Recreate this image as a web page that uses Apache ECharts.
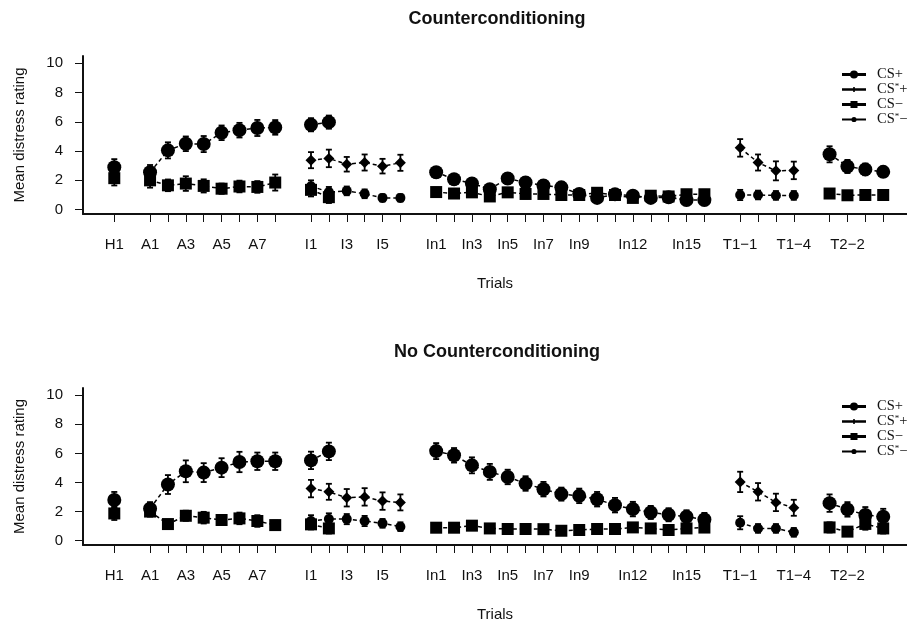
<!DOCTYPE html>
<html><head><meta charset="utf-8">
<script src="https://cdn.jsdelivr.net/npm/echarts@6/dist/echarts.min.js"></script>
<style>html,body{margin:0;padding:0;background:#fff}#c{width:907px;height:623px}</style>
</head><body><div id="c"></div>
<script>
// ---- data ----
const phaseSizes = [1, 8, 6, 16, 4, 4]; // H, A, I, In, T1, T2
const trialLabels = ['H1',
  'A1','A2','A3','A4','A5','A6','A7','A8',
  'I1','I2','I3','I4','I5','I6',
  'In1','In2','In3','In4','In5','In6','In7','In8','In9','In10','In11','In12','In13','In14','In15','In16',
  'T1−1','T1−2','T1−3','T1−4',
  'T2−1','T2−2','T2−3','T2−4'];
const shownLabels = ['H1','A1','A3','A5','A7','I1','I3','I5','In1','In3','In5','In7','In9','In12','In15','T1−1','T1−4','T2−2'];
const yTickValues = [0, 2, 4, 6, 8, 10];
const seriesNames = ['CS+', 'CS*+', 'CS−', 'CS*−'];

// Counterconditioning
const cc_csPlus = [2.9, 2.55,4.05,4.5,4.48,5.25,5.43,5.58,5.62, 5.8,5.98,null,null,null,null,
  2.55,2.08,1.78,1.4,2.13,1.85,1.65,1.52,1.07,0.8,1.05,0.95,0.8,0.85,0.65,0.65,
  null,null,null,null, 3.78,2.95,2.75,2.58];
const cc_csPlusErr = [0.55, 0.5,0.55,0.5,0.55,0.5,0.5,0.55,0.5, 0.45,0.45,null,null,null,null,
  0.35,0.35,0.35,0.3,0.35,0.35,0.35,0.35,0.3,0.3,0.3,0.3,0.3,0.3,0.35,0.35,
  null,null,null,null, 0.55,0.45,0.4,0.35];
const cc_csMinus = [2.15, 2.0,1.66,1.78,1.62,1.43,1.58,1.55,1.85, 1.35,0.85,null,null,null,null,
  1.2,1.1,1.18,0.9,1.18,1.07,1.07,1.0,1.0,1.15,1.0,0.8,0.95,0.9,1.05,1.05,
  null,null,null,null, 1.1,0.98,1.0,1.0];
const cc_csMinusErr = [0.5, 0.5,0.4,0.5,0.45,0.35,0.4,0.4,0.55, 0.45,0.4,null,null,null,null,
  0.3,0.3,0.3,0.3,0.3,0.3,0.3,0.3,0.3,0.3,0.3,0.3,0.3,0.3,0.3,0.3,
  null,null,null,null, 0.3,0.3,0.3,0.3];
const cc_csStarPlus = [null, null,null,null,null,null,null,null,null, 3.38,3.5,3.1,3.22,2.97,3.2,
  null,null,null,null,null,null,null,null,null,null,null,null,null,null,null,null,
  4.22,3.22,2.65,2.68, null,null,null,null];
const cc_csStarPlusErr = [null, null,null,null,null,null,null,null,null, 0.55,0.6,0.5,0.55,0.5,0.55,
  null,null,null,null,null,null,null,null,null,null,null,null,null,null,null,null,
  0.6,0.55,0.65,0.6, null,null,null,null];
const cc_csStarMinus = [null, null,null,null,null,null,null,null,null, 1.6,1.2,1.28,1.08,0.8,0.8,
  null,null,null,null,null,null,null,null,null,null,null,null,null,null,null,null,
  1.0,1.0,0.97,0.97, null,null,null,null];
const cc_csStarMinusErr = [null, null,null,null,null,null,null,null,null, 0.4,0.35,0.3,0.3,0.25,0.25,
  null,null,null,null,null,null,null,null,null,null,null,null,null,null,null,null,
  0.35,0.3,0.3,0.3, null,null,null,null];

// No Counterconditioning
const nc_csPlus = [2.8, 2.2,3.86,4.77,4.68,5.02,5.41,5.46,5.46, 5.52,6.14,null,null,null,null,
  6.16,5.87,5.18,4.73,4.38,3.93,3.54,3.2,3.08,2.85,2.44,2.17,1.94,1.78,1.64,1.46,
  null,null,null,null, 2.58,2.15,1.76,1.64];
const nc_csPlusErr = [0.55, 0.45,0.65,0.75,0.65,0.65,0.7,0.6,0.6, 0.6,0.6,null,null,null,null,
  0.55,0.5,0.55,0.55,0.5,0.5,0.5,0.45,0.5,0.5,0.5,0.5,0.45,0.45,0.45,0.45,
  null,null,null,null, 0.6,0.5,0.55,0.55];
const nc_csMinus = [1.87, 2.0,1.14,1.71,1.58,1.42,1.53,1.35,1.07, 1.12,0.84,null,null,null,null,
  0.89,0.89,1.03,0.84,0.8,0.8,0.79,0.68,0.73,0.8,0.8,0.91,0.84,0.73,0.84,0.9,
  null,null,null,null, 0.91,0.62,1.15,0.84];
const nc_csMinusErr = [0.45, 0.35,0.3,0.35,0.4,0.35,0.4,0.4,0.3, 0.35,0.35,null,null,null,null,
  0.3,0.3,0.3,0.3,0.3,0.3,0.3,0.3,0.3,0.3,0.3,0.3,0.3,0.3,0.3,0.3,
  null,null,null,null, 0.35,0.3,0.4,0.35];
const nc_csStarPlus = [null, null,null,null,null,null,null,null,null, 3.58,3.36,2.95,3.01,2.72,2.63,
  null,null,null,null,null,null,null,null,null,null,null,null,null,null,null,null,
  4.04,3.36,2.63,2.26, null,null,null,null];
const nc_csStarPlusErr = [null, null,null,null,null,null,null,null,null, 0.6,0.55,0.6,0.6,0.6,0.55,
  null,null,null,null,null,null,null,null,null,null,null,null,null,null,null,null,
  0.7,0.6,0.6,0.55, null,null,null,null];
const nc_csStarMinus = [null, null,null,null,null,null,null,null,null, 1.35,1.48,1.48,1.35,1.19,0.96,
  null,null,null,null,null,null,null,null,null,null,null,null,null,null,null,null,
  1.23,0.84,0.84,0.57, null,null,null,null];
const nc_csStarMinusErr = [null, null,null,null,null,null,null,null,null, 0.4,0.4,0.35,0.35,0.3,0.3,
  null,null,null,null,null,null,null,null,null,null,null,null,null,null,null,null,
  0.45,0.3,0.3,0.3, null,null,null,null];

// ---- layout of trials on the x scale: one empty slot between phases ----
const xPos = [], gapPos = [];
(function(){ let p = 0; phaseSizes.forEach(n => { for (let i = 0; i < n; i++) xPos.push(p++); gapPos.push(p); p++; }); })();
const labelPos = shownLabels.map(l => xPos[trialLabels.indexOf(l)]);
const posToLabel = {}; xPos.forEach((p, i) => posToLabel[p] = trialLabels[i]);

function lineData(vals) {
  const out = []; let idx = 0;
  phaseSizes.forEach((n, k) => {
    for (let i = 0; i < n; i++, idx++) out.push([xPos[idx], vals[idx] === null ? '-' : vals[idx]]);
    out.push([gapPos[k], '-']);
  });
  return out;
}
function errData(vals, errs) {
  const out = [];
  vals.forEach((v, i) => { if (v !== null) out.push([xPos[i], v, errs[i]]); });
  return out;
}
function errRender(params, api) {
  const x = api.value(0), y = api.value(1), e = api.value(2);
  const t = api.coord([x, y + e]), b = api.coord([x, y - e]);
  const cw = 3, st = { stroke: '#000', lineWidth: 1.8 };
  return { type: 'group', children: [
    { type: 'line', shape: { x1: t[0], y1: t[1], x2: b[0], y2: b[1] }, style: st },
    { type: 'line', shape: { x1: t[0] - cw, y1: t[1], x2: t[0] + cw, y2: t[1] }, style: st },
    { type: 'line', shape: { x1: b[0] - cw, y1: b[1], x2: b[0] + cw, y2: b[1] }, style: st }
  ]};
}

const symbols = { 'CS+': ['circle', 14], 'CS*+': ['diamond', 11], 'CS−': ['rect', 12], 'CS*−': ['circle', 10] };
const panels = [
  { vals: [cc_csPlus, cc_csStarPlus, cc_csMinus, cc_csStarMinus], errs: [cc_csPlusErr, cc_csStarPlusErr, cc_csMinusErr, cc_csStarMinusErr] },
  { vals: [nc_csPlus, nc_csStarPlus, nc_csMinus, nc_csStarMinus], errs: [nc_csPlusErr, nc_csStarPlusErr, nc_csMinusErr, nc_csStarMinusErr] }
];

const series = [];
panels.forEach((pnl, g) => {
  seriesNames.forEach((nm, s) => {
    series.push({ type: 'custom', name: nm + ' error', xAxisIndex: g, yAxisIndex: g, z: 2,
      renderItem: errRender, encode: { x: 0, y: 1 }, data: errData(pnl.vals[s], pnl.errs[s]) });
  });
  seriesNames.forEach((nm, s) => {
    series.push({ type: 'line', name: nm, xAxisIndex: g, yAxisIndex: g, z: 3,
      symbol: symbols[nm][0], symbolSize: symbols[nm][1], showSymbol: true, showAllSymbol: true,
      connectNulls: false, itemStyle: { color: '#000' },
      lineStyle: { color: '#000', width: 1.5, type: [4, 3] },
      data: lineData(pnl.vals[s]) });
  });
});

const font = 'Liberation Sans, Arial, Helvetica, sans-serif';
const grids = [{ left: 83, top: 56, width: 824, height: 158 }, { left: 83, top: 388, width: 824, height: 158 }];
const xAxes = grids.map((g, i) => ({
  type: 'value', gridIndex: i, min: -1.75, max: 44.33,
  name: 'Trials', nameLocation: 'middle', nameGap: 62,
  nameTextStyle: { fontFamily: font, fontSize: 15, color: '#111' },
  axisLine: { show: true, onZero: false, lineStyle: { color: '#111', width: 2 } },
  axisTick: { show: true, length: 8, customValues: xPos, lineStyle: { color: '#111', width: 1 } },
  axisLabel: { show: true, margin: 23, customValues: labelPos, fontFamily: font, fontSize: 15, color: '#111',
    formatter: v => posToLabel[v] || '' },
  splitLine: { show: false }
}));
const yAxes = grids.map((g, i) => ({
  type: 'value', gridIndex: i, min: -0.3, max: 10.5,
  name: 'Mean distress rating', nameLocation: 'middle', nameGap: 56,
  nameTextStyle: { fontFamily: font, fontSize: 15, color: '#111' },
  axisLine: { show: true, onZero: false, lineStyle: { color: '#111', width: 2 } },
  axisTick: { show: true, length: 8, customValues: yTickValues, lineStyle: { color: '#111', width: 1 } },
  axisLabel: { show: true, margin: 20, customValues: yTickValues, fontFamily: font, fontSize: 15, color: '#111' },
  splitLine: { show: false }
}));

const legendIcons = {
  'CS+': 'path://M0 0 M24 10 M0 3.5 L8.2 3.5 L8.2 6.5 L0 6.5 Z M15.8 3.5 L24 3.5 L24 6.5 L15.8 6.5 Z M8 5 A4 4 0 1 1 16 5 A4 4 0 1 1 8 5 Z',
  'CS*+': 'path://M0 0 M24 10 M0 3.8 L11.2 3.8 L11.2 2.5 L12.8 2.5 L12.8 3.8 L24 3.8 L24 6.2 L12.8 6.2 L12.8 7.5 L11.2 7.5 L11.2 6.2 L0 6.2 Z',
  'CS−': 'path://M0 0 M24 10 M0 3.5 L8.5 3.5 L8.5 1.5 L15.5 1.5 L15.5 3.5 L24 3.5 L24 6.5 L15.5 6.5 L15.5 8.5 L8.5 8.5 L8.5 6.5 L0 6.5 Z',
  'CS*−': 'path://M0 0 M24 10 M0 4 L9.5 4 L9.5 6 L0 6 Z M14.5 4 L24 4 L24 6 L14.5 6 Z M9.4 5 A2.6 2.6 0 1 1 14.6 5 A2.6 2.6 0 1 1 9.4 5 Z'
};
const legendBase = {
  orient: 'vertical', left: 842, itemWidth: 24, itemHeight: 10, itemGap: 0, padding: 0,
  selectedMode: false, symbolKeepAspect: false,
  data: seriesNames.map(n => ({ name: n, icon: legendIcons[n], itemStyle: { color: '#000' } })),
  formatter: n => n.replace('*', '{sup|*}'),
  textStyle: { fontFamily: 'Liberation Serif, Times New Roman, serif', fontSize: 14.5, lineHeight: 14, color: '#111',
    padding: [0, 0, 0, 6],
    rich: { sup: { fontFamily: 'Liberation Serif, serif', fontSize: 9, lineHeight: 14, verticalAlign: 'top', padding: [0, 0, 5, 0] } } }
};

const option = {
  animation: false,
  backgroundColor: '#fff',
  title: [
    { text: 'Counterconditioning', left: 497, top: 10, padding: 0, textAlign: 'center',
      textStyle: { fontFamily: font, fontSize: 18, fontWeight: 'bold', color: '#111' } },
    { text: 'No Counterconditioning', left: 497, top: 343, padding: 0, textAlign: 'center',
      textStyle: { fontFamily: font, fontSize: 18, fontWeight: 'bold', color: '#111' } }
  ],
  legend: [Object.assign({}, legendBase, { top: 67 }), Object.assign({}, legendBase, { top: 399 })],
  grid: grids,
  xAxis: xAxes,
  yAxis: yAxes,
  series: series
};
const chart = echarts.init(document.getElementById('c'), null, { renderer: 'canvas' });
chart.setOption(option);
</script></body></html>
